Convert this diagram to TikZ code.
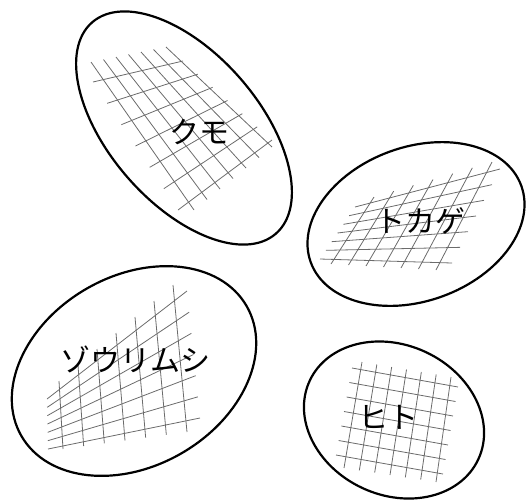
\documentclass[tikz,border=0pt]{standalone}
\usepackage{fontspec}
\newfontfamily\jpfont{Noto Sans CJK JP}
\usetikzlibrary{calc}
\tikzset{
  blob/.style={line width=2.2pt, black},
  mesh/.style={line width=0.8pt, black!58},
  tag/.style={font=\jpfont\fontsize{30}{30}\selectfont, inner sep=0pt}
}
\begin{document}
\begin{tikzpicture}[x=1pt, y=-1pt]
  \useasboundingbox (0,0) rectangle (526,499);
  % クモ
  \foreach \i in {0,...,6} {
    \draw[mesh] ($(91,62)!\i/6!(166,47)$) -- ($(194,210)!\i/6!(272,147)$);
    \draw[mesh] ($(93,82)!\i/6!(178,210)$) -- ($(183,61)!\i/6!(272,140)$);
  }
  \draw[blob, rotate around={-49:(184,128)}] (184,128) ellipse [x radius=140, y radius=75];
  \node[tag] (kumo) at (199,132) {クモ};
  % トカゲ
  \foreach \i in {0,...,6} {
    \draw[mesh] ($(374,197)!\i/6!(492,162)$) -- ($(331,264)!\i/6!(436,270)$);
    \draw[mesh] ($(355,207)!\i/6!(320,259)$) -- ($(500,169)!\i/6!(452,263)$);
  }
  \draw[blob, rotate around={20:(416,224)}] (416,224) ellipse [x radius=112, y radius=77];
  \node[tag] (tokage) at (420,221) {トカゲ};
  % ゾウリムシ
  \foreach \i in {0,...,6} {
    \draw[mesh] ($(59,381)!\i/6!(173,285)$) -- ($(63,449)!\i/6!(187,432)$);
    \draw[mesh] ($(47,399)!\i/6!(48,449)$) -- ($(187,291)!\i/6!(200,418)$);
  }
  \draw[blob, rotate around={30:(134,371)}] (134,371) ellipse [x radius=130, y radius=95];
  \node[tag] (zourimushi) at (135,359) {ゾウリムシ};
  % ヒト
  \foreach \i in {0,...,6} {
    \draw[mesh] ($(362,362)!\i/6!(451,377)$) -- ($(344,468)!\i/6!(436,482)$);
    \draw[mesh] ($(352,368)!\i/6!(336,455)$) -- ($(458,387)!\i/6!(443,474)$);
  }
  \draw[blob, rotate around={-25:(394,420)}] (394,420) ellipse [x radius=93, y radius=75];
  \node[tag] (hito) at (388,417) {ヒト};
\end{tikzpicture}
\end{document}
